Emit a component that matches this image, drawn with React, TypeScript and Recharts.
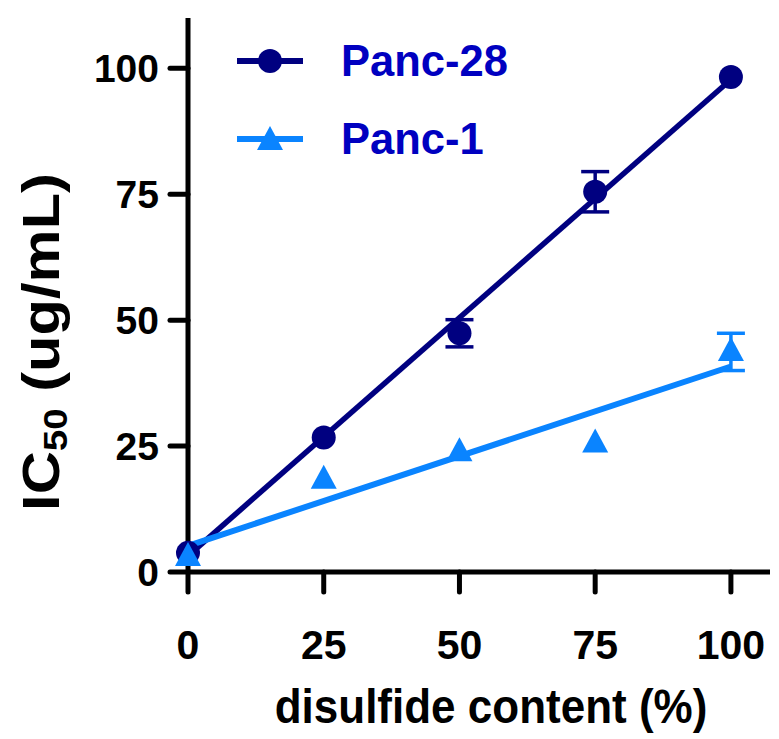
import React from 'react';
import {
  ComposedChart,
  Line,
  Scatter,
  ErrorBar,
  XAxis,
  YAxis,
  Legend,
} from 'recharts';

const X_VALUES = [0, 25, 50, 75, 100];
const PANC28 = [3.8, 26.7, 47.4, 75.5, 98.3];
const PANC28_ERR = [0, 0, 2.7, 4.0, 0];
const PANC1 = [3.0, 18.3, 23.8, 25.5, 43.7];
const PANC1_ERR = [0, 0, 0, 0, 3.7];

// linear fit endpoints
const FIT_X = [0, 100];
const FIT28 = [3.2, 97.8];
const FIT1 = [5.2, 40.8];

const X_TICKS = [0, 25, 50, 75, 100];
const Y_TICKS = [0, 25, 50, 75, 100];

const NAVY = '#000080';
const SKY = '#0a84ff';
const LEGEND_TEXT = '#0000c0';
const FONT = '"Liberation Sans", Arial, Helvetica, sans-serif';

const d28 = X_VALUES.map((x, i) => ({ x, y: PANC28[i], err: PANC28_ERR[i] }));
const d1 = X_VALUES.map((x, i) => ({ x, y: PANC1[i], err: PANC1_ERR[i] }));
const fit28 = FIT_X.map((x, i) => ({ x, y: FIT28[i] }));
const fit1 = FIT_X.map((x, i) => ({ x, y: FIT1[i] }));

const LEGEND_ITEMS = [
  { name: 'Panc-28', color: NAVY, marker: 'circle' },
  { name: 'Panc-1', color: SKY, marker: 'triangle' },
];

const Dot = (p: any) => <circle cx={p.cx} cy={p.cy} r={12} fill={NAVY} />;

const Tri = (p: any) => (
  <polygon
    points={`${p.cx},${p.cy - 15} ${p.cx - 13},${p.cy + 9} ${p.cx + 13},${p.cy + 9}`}
    fill={SKY}
  />
);

const renderLegend = () => (
  <div>
    {LEGEND_ITEMS.map((it) => (
      <div key={it.name} style={{ display: 'flex', alignItems: 'center', height: 78 }}>
        <svg width={80} height={40} style={{ marginRight: 31 }}>
          <line x1={7} y1={20} x2={73} y2={20} stroke={it.color} strokeWidth={6} />
          {it.marker === 'circle' ? (
            <circle cx={40} cy={20} r={12} fill={it.color} />
          ) : (
            <polygon points="40,7 27,31 53,31" fill={it.color} />
          )}
        </svg>
        <span
          style={{
            fontFamily: FONT,
            fontWeight: 'bold',
            fontSize: 43.5,
            color: LEGEND_TEXT,
          }}
        >
          {it.name}
        </span>
      </div>
    ))}
  </div>
);

const YTitle = () => (
  <text
    x={0}
    y={0}
    transform="translate(59, 342) rotate(-90) scale(1.17, 1)"
    textAnchor="middle"
    fontFamily={FONT}
    fontWeight="bold"
    fontSize={51}
    fill="#000"
  >
    IC<tspan fontSize={33} dy={8}>50</tspan>
    <tspan dy={-8}> (ug/mL)</tspan>
  </text>
);

const XTitle = () => (
  <text
    x={0}
    y={0}
    transform="translate(491, 723) scale(1, 1.1)"
    textAnchor="middle"
    fontFamily={FONT}
    fontWeight="bold"
    fontSize={44}
    fill="#000"
  >
    disulfide content (%)
  </text>
);

export default function App() {
  const tickStyle = { fontFamily: FONT, fontWeight: 'bold', fill: '#000' } as any;
  return (
    <div style={{ position: 'absolute', left: 0, top: 0, background: '#fff' }}>
      <ComposedChart
        width={779}
        height={739}
        margin={{ top: 18, right: 9, bottom: 0, left: 0 }}
      >
        <XAxis
          type="number"
          dataKey="x"
          domain={[0, 107.2]}
          ticks={X_TICKS}
          interval={0}
          height={167}
          axisLine={{ stroke: '#000', strokeWidth: 5 }}
          tickLine={{ stroke: '#000', strokeWidth: 5, strokeLinecap: 'round' }}
          tickSize={20}
          tickMargin={38}
          tick={{ ...tickStyle, fontSize: 41 }}
          label={<XTitle />}
        />
        <YAxis
          type="number"
          domain={[0, 110]}
          ticks={Y_TICKS}
          interval={0}
          width={188}
          axisLine={{ stroke: '#000', strokeWidth: 5 }}
          tickLine={{ stroke: '#000', strokeWidth: 5, strokeLinecap: 'round' }}
          tickSize={18}
          tickMargin={11}
          tick={{ ...tickStyle, fontSize: 39 }}
          label={<YTitle />}
        />
        <Line
          data={fit28}
          dataKey="y"
          stroke={NAVY}
          strokeWidth={5.5}
          dot={false}
          activeDot={false}
          isAnimationActive={false}
          legendType="none"
        />
        <Line
          data={fit1}
          dataKey="y"
          stroke={SKY}
          strokeWidth={6}
          dot={false}
          activeDot={false}
          isAnimationActive={false}
          legendType="none"
        />
        <Scatter data={d28} dataKey="y" shape={Dot} isAnimationActive={false}>
          <ErrorBar dataKey="err" direction="y" width={14} stroke={NAVY} strokeWidth={3.5} />
        </Scatter>
        <Scatter data={d1} dataKey="y" shape={Tri} isAnimationActive={false}>
          <ErrorBar dataKey="err" direction="y" width={14} stroke={SKY} strokeWidth={3.5} />
        </Scatter>
        <Legend
          layout="vertical"
          align="center"
          verticalAlign="middle"
          content={renderLegend}
          wrapperStyle={{ position: 'absolute', left: 230, top: 22, width: 340, height: 160 }}
        />
      </ComposedChart>
    </div>
  );
}
